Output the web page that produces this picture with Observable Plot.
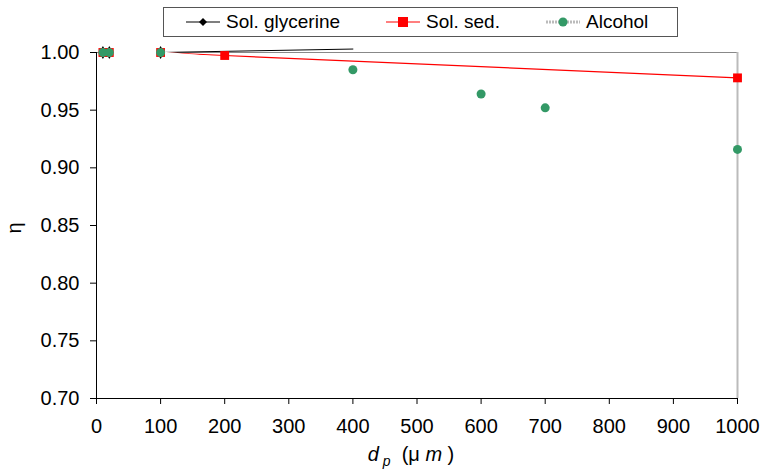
<!DOCTYPE html>
<html><head><meta charset="utf-8">
<script src="https://cdn.jsdelivr.net/npm/d3@7"></script>
<script src="https://cdn.jsdelivr.net/npm/@observablehq/plot@0.6"></script>
<style>
body{margin:0;background:#fff;font-family:"Liberation Sans",Arial,sans-serif;}
#wrap{position:relative;width:762px;height:472px;}
#legend{position:absolute;left:163px;top:7px;width:513px;height:28px;border:1px solid #555;background:#fff;font-size:19px;color:#000;}
.item{display:flex;align-items:center;position:absolute;top:3px;}
</style></head><body>
<div id="wrap"><div id="chart"></div><div id="legend"></div></div>
<script>
const seriesNames = ["Sol. glycerine", "Sol. sed.", "Alcohol"];
const glyX = [10, 20, 100, 400];
const glyY = [1.0, 1.0, 1.0, 1.003];
const sedX = [10, 20, 100, 200, 1000];
const sedY = [1.0, 1.0, 1.0, 0.9974, 0.978];
const alcX = [10, 20, 100, 400, 600, 700, 1000];
const alcY = [1.0, 1.0, 1.0, 0.985, 0.964, 0.952, 0.916];
const xTicks = [0,100,200,300,400,500,600,700,800,900,1000];
const yTicks = [0.70,0.75,0.80,0.85,0.90,0.95,1.00];

const gly = glyX.map((x,i)=>({x, y: glyY[i]}));
const sed = sedX.map((x,i)=>({x, y: sedY[i]}));
const alc = alcX.map((x,i)=>({x, y: alcY[i]}));
const green = "#339966";
const font = '"Liberation Sans",Arial,sans-serif';

const plot = Plot.plot({
  width: 762, height: 472,
  marginLeft: 96, marginRight: 25, marginTop: 52, marginBottom: 74,
  style: {fontFamily: font, fontSize: "20px", color: "#000", background: "#fff"},
  x: {domain: [0, 1000], label: null},
  y: {domain: [0.70, 1.00], label: null},
  marks: [
    Plot.ruleY([1.0], {stroke: "#888", strokeWidth: 1}),
    Plot.ruleX([1000], {stroke: "#bbb", strokeWidth: 2}),
    Plot.ruleX([0], {stroke: "#000", strokeWidth: 1}),
    Plot.ruleY([0.70], {stroke: "#000", strokeWidth: 1}),
    Plot.axisX({ticks: xTicks, tickFormat: d3.format("d"), tickSize: 6, tickPadding: 14, fontSize: 20, stroke: "#000", label: null}),
    Plot.axisY({ticks: yTicks, tickFormat: d3.format(".2f"), tickSize: 6, tickPadding: 11, fontSize: 20, label: null}),
    Plot.line(gly, {x: "x", y: "y", stroke: "#000", strokeWidth: 1}),
    Plot.line(sed, {x: "x", y: "y", stroke: "#ff0000", strokeWidth: 1.2}),
    Plot.line(alc, {x: "x", y: "y", stroke: "#fff", strokeWidth: 2}),
    Plot.dot(gly.filter(d => d.y <= 1), {x: "x", y: "y", symbol: "diamond", r: 4, fill: "#000"}),
    Plot.dot(sed, {x: "x", y: "y", symbol: "square", r: 5, fill: "#ff0000"}),
    Plot.dot(alc, {x: "x", y: "y", symbol: "circle", r: 4.5, fill: green})
  ]
});
document.getElementById("chart").appendChild(plot);

const svg = d3.select(plot);
svg.append("text").attr("transform", "translate(21,228) rotate(-90)").attr("text-anchor", "middle")
  .attr("font-size", 20).attr("font-family", font).text("η");
const xl = svg.append("text").attr("x", 411).attr("y", 461).attr("text-anchor", "middle")
  .attr("font-size", 20).attr("font-family", font);
xl.append("tspan").attr("font-style", "italic").text("d");
xl.append("tspan").attr("font-style", "italic").attr("font-size", 14).attr("dy", 5).text(" p");
xl.append("tspan").attr("dy", -5).text("  (μ ");
xl.append("tspan").attr("font-style", "italic").text("m");
xl.append("tspan").text(" )");

const lg = d3.select("#legend");
const items = [
  {name: seriesNames[0], left: 22, line: "#000", dash: null, sym: "diamond", col: "#000"},
  {name: seriesNames[1], left: 222, line: "#ff0000", dash: null, sym: "square", col: "#ff0000"},
  {name: seriesNames[2], left: 382, line: "#bbb", dash: "2,1", sym: "circle", col: green}
];
items.forEach(it => {
  const d = lg.append("div").attr("class", "item").style("left", it.left + "px");
  const s = d.append("svg").attr("width", 36).attr("height", 20);
  s.append("line").attr("x1", 0).attr("x2", 34).attr("y1", 10).attr("y2", 10)
    .attr("stroke", it.line).attr("stroke-width", it.dash ? 3 : 1.2).attr("stroke-dasharray", it.dash);
  if (it.sym === "diamond") s.append("path").attr("d", "M17,6L21,10L17,14L13,10Z").attr("fill", it.col);
  if (it.sym === "square") s.append("rect").attr("x", 12).attr("y", 5).attr("width", 10).attr("height", 10).attr("fill", it.col);
  if (it.sym === "circle") s.append("circle").attr("cx", 17).attr("cy", 10).attr("r", 4.5).attr("fill", it.col);
  d.append("span").style("margin-left", "4px").text(it.name);
});
</script>
</body></html>
